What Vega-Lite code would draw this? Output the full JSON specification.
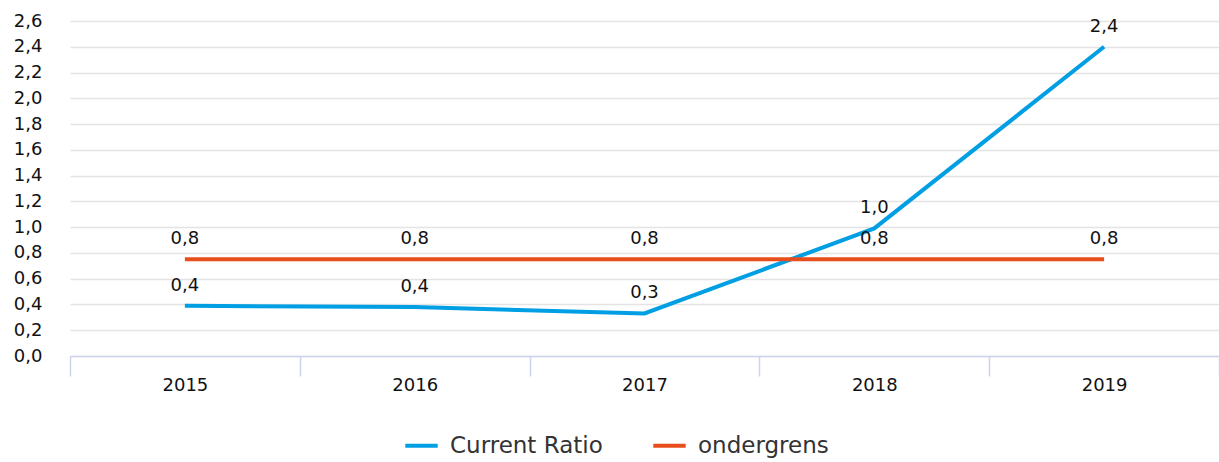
{
  "$schema": "https://vega.github.io/schema/vega-lite/v6.json",
  "width": 1149,
  "height": 335,
  "autosize": {"type": "none"},
  "padding": {"left": 70, "top": 21, "right": 0, "bottom": 106},
  "config": {
    "locale": {"number": {"decimal": ",", "thousands": ".", "grouping": [3], "currency": ["€", ""]}},
    "font": "DejaVu Sans",
    "view": {"stroke": null},
    "axis": {"labelFont": "DejaVu Sans", "labelFontSize": 18, "labelColor": "#111111", "title": null}
  },
  "data": {
    "values": [
      {"year": "2015", "series": "Current Ratio", "value": 0.39},
      {"year": "2016", "series": "Current Ratio", "value": 0.38},
      {"year": "2017", "series": "Current Ratio", "value": 0.33},
      {"year": "2018", "series": "Current Ratio", "value": 0.99},
      {"year": "2019", "series": "Current Ratio", "value": 2.4},
      {"year": "2015", "series": "ondergrens", "value": 0.75},
      {"year": "2016", "series": "ondergrens", "value": 0.75},
      {"year": "2017", "series": "ondergrens", "value": 0.75},
      {"year": "2018", "series": "ondergrens", "value": 0.75},
      {"year": "2019", "series": "ondergrens", "value": 0.75}
    ]
  },
  "encoding": {
    "x": {
      "field": "year", "type": "ordinal",
      "scale": {"type": "band", "paddingInner": 0, "paddingOuter": 0},
      "axis": {
        "labelAngle": 0, "tickBand": "extent", "tickSize": 20, "tickWidth": 1.5,
        "tickColor": "#cdd5ec", "domainColor": "#cdd5ec", "domainWidth": 1.5,
        "labelPadding": 0, "grid": false
      }
    },
    "y": {
      "field": "value", "type": "quantitative",
      "scale": {"domain": [0, 2.6], "nice": false, "zero": true},
      "axis": {
        "values": [0, 0.2, 0.4, 0.6, 0.8, 1.0, 1.2, 1.4, 1.6, 1.8, 2.0, 2.2, 2.4, 2.6],
        "format": ".1f", "domain": false, "ticks": false, "labelPadding": 28,
        "gridColor": "#e4e4e4", "gridWidth": 1.5
      }
    },
    "color": {
      "field": "series", "type": "nominal",
      "scale": {"domain": ["Current Ratio", "ondergrens"], "range": ["#009fe3", "#e84e1b"]},
      "legend": {
        "title": null, "orient": "none", "direction": "horizontal",
        "legendX": 333, "legendY": 406,
        "symbolType": "stroke", "symbolSize": 1050, "symbolStrokeWidth": 4,
        "labelFontSize": 23, "labelColor": "#333333", "labelFont": "DejaVu Sans",
        "columnPadding": 42, "labelOffset": 10
      }
    }
  },
  "layer": [
    {"mark": {"type": "line", "strokeWidth": 4}},
    {
      "mark": {"type": "text", "dy": -20, "fontSize": 18, "color": "#111111", "baseline": "middle"},
      "encoding": {
        "text": {"field": "value", "type": "quantitative", "format": ".1f"},
        "color": {"value": "#111111"}
      }
    }
  ]
}
